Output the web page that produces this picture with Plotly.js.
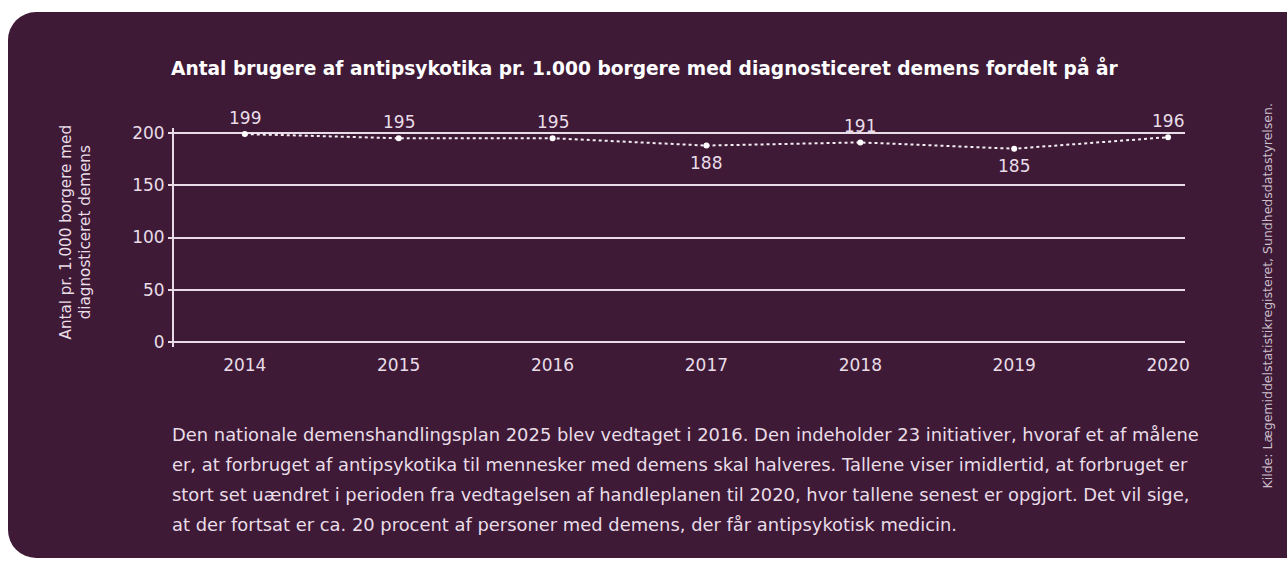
<!DOCTYPE html>
<html>
<head>
<meta charset="utf-8">
<script src="https://cdn.plot.ly/plotly-3.0.1.min.js"></script>
<style>
  html, body { margin:0; padding:0; background:#ffffff; width:1287px; height:561px; overflow:hidden; }
  #bg { position:absolute; left:8px; top:12px; width:1310px; height:546px; background:#3e1a37; border-radius:28px; }
  #chart { position:absolute; left:0; top:0; width:1287px; height:561px; }
</style>
</head>
<body>
<div id="bg"></div>
<div id="chart"></div>
<script>
const years = ['2014', '2015', '2016', '2017', '2018', '2019', '2020'];
const values = [199, 195, 195, 188, 191, 185, 196];
const labelBelow = [false, false, false, true, false, true, false];
const yTicks = [0, 50, 100, 150, 200];

const titleText = 'Antal brugere af antipsykotika pr. 1.000 borgere med diagnosticeret demens fordelt på år';
const yTitle = 'Antal pr. 1.000 borgere med<br>diagnosticeret demens';
const sourceText = 'Kilde: Lægemiddelstatistikregisteret, Sundhedsdatastyrelsen.';
const paragraph = [
  'Den nationale demenshandlingsplan 2025 blev vedtaget i 2016. Den indeholder 23 initiativer, hvoraf et af målene',
  'er, at forbruget af antipsykotika til mennesker med demens skal halveres. Tallene viser imidlertid, at forbruget er',
  'stort set uændret i perioden fra vedtagelsen af handleplanen til 2020, hvor tallene senest er opgjort. Det vil sige,',
  'at der fortsat er ca. 20 procent af personer med demens, der får antipsykotisk medicin.'
];

const txtColor = '#e9dde7';
const FONT = '"DejaVu Sans", sans-serif';
const xIdx = years.map((y, i) => i);

const trace = {
  type: 'scatter',
  mode: 'lines+markers',
  x: xIdx,
  y: values,
  line: { color: '#f4eef3', width: 2, dash: 'dot' },
  marker: { color: '#ffffff', size: 6 },
  cliponaxis: false,
  hoverinfo: 'skip'
};

const annotations = [
  { text: '<b>' + titleText + '</b>', xref: 'paper', yref: 'paper', x: 0.465, y: 1, yshift: 61,
    xanchor: 'center', yanchor: 'middle', showarrow: false,
    font: { family: FONT, size: 18.6, color: '#ffffff' } },
  { text: yTitle, xref: 'paper', yref: 'paper', x: 0, xshift: -99, y: 0.5, yshift: 5, textangle: -90,
    xanchor: 'center', yanchor: 'middle', showarrow: false, align: 'center',
    font: { family: FONT, size: 15.2, color: txtColor } },
  { text: sourceText, xref: 'paper', yref: 'paper', x: 1, xshift: 82, y: 0.5, yshift: -59, textangle: -90,
    xanchor: 'center', yanchor: 'middle', showarrow: false,
    font: { family: FONT, size: 12.5, color: '#cdbfcc' } }
];
values.forEach((v, i) => {
  annotations.push({ text: String(v), x: xIdx[i], y: v, xref: 'x', yref: 'y',
    yshift: labelBelow[i] ? -17 : 16, xanchor: 'center', yanchor: 'middle', showarrow: false,
    font: { family: FONT, size: 17, color: txtColor } });
});
paragraph.forEach((line, i) => {
  annotations.push({ text: line, xref: 'paper', yref: 'paper', x: 0, xshift: -4, y: 0, yshift: -87 - i * 30.3,
    xanchor: 'left', yanchor: 'middle', showarrow: false, align: 'left',
    font: { family: FONT, size: 17.9, color: txtColor } });
});

const layout = {
  width: 1287, height: 561,
  paper_bgcolor: 'rgba(0,0,0,0)',
  plot_bgcolor: 'rgba(0,0,0,0)',
  margin: { l: 174, r: 102, t: 128, b: 214 },
  showlegend: false,
  xaxis: {
    range: [-0.46, 6.11],
    tickmode: 'array', tickvals: xIdx, ticktext: years,
    showgrid: false, zeroline: false, showline: false, ticks: '',
    ticklabelstandoff: 6,
    tickfont: { family: FONT, size: 17, color: txtColor },
    fixedrange: true
  },
  yaxis: {
    range: [-4.8, 204.8],
    tickmode: 'array', tickvals: yTicks,
    showgrid: true, gridcolor: '#eadbe8', gridwidth: 2,
    zeroline: false,
    showline: true, linecolor: '#eadbe8', linewidth: 2,
    ticks: 'outside', ticklen: 4, tickcolor: '#eadbe8', tickwidth: 2,
    tickfont: { family: FONT, size: 17, color: txtColor },
    fixedrange: true
  },
  annotations: annotations
};

Plotly.newPlot('chart', [trace], layout, { displayModeBar: false, staticPlot: true });
</script>
</body>
</html>
